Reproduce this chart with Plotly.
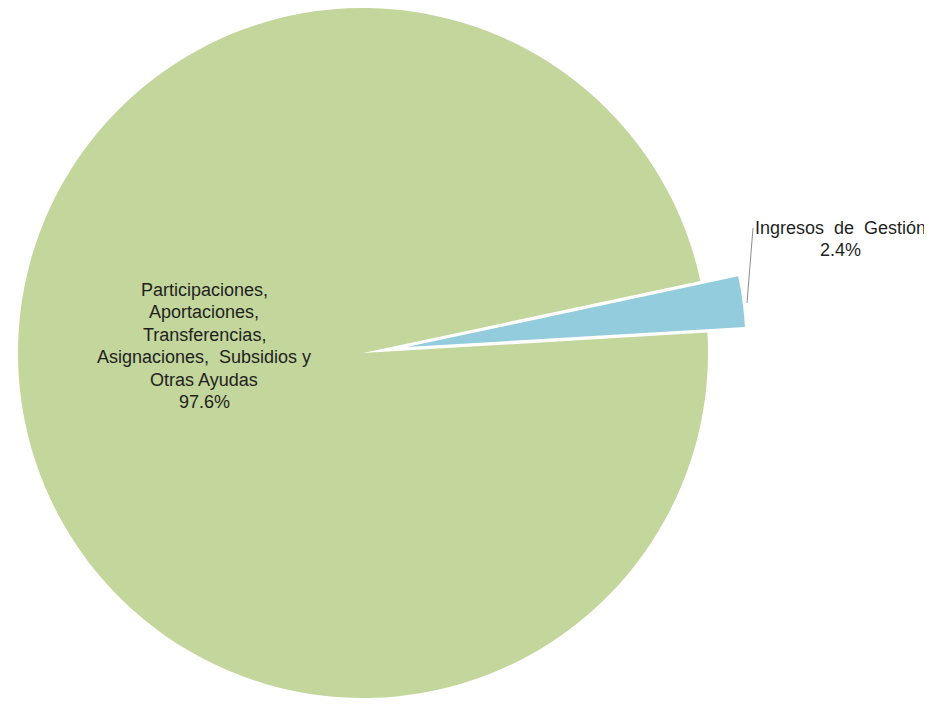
import math
import plotly.graph_objects as go

# ---- data ----
labels = [
    "Participaciones, Aportaciones, Transferencias, Asignaciones, Subsidios y Otras Ayudas",
    "Ingresos de Gestión",
]
label_lines = [
    ["Participaciones,", "Aportaciones,", "Transferencias,", "Asignaciones,\u00a0 Subsidios y", "Otras Ayudas"],
    ["Ingresos\u00a0 de\u00a0 Gestión"],
]
values = [97.6, 2.4]
colors = ["#C3D69B", "#93CDDD"]

OFF = 8                              # browser body margin
W, H = 932 - OFF, 706 - 2 * OFF
cx, cy, r = 363 - OFF, 353 - OFF, 345   # pie centre / radius (figure px)
rotation = 86.6                      # clock angle where the first slice starts
pull_px = 38                         # explosion of the small slice (px)

total = sum(values)
start2 = rotation + 360 * values[0] / total
mid2 = math.radians(start2 + 180 * values[1] / total)
s, c = math.sin(mid2), -math.cos(mid2)
d = pull_px
cxb, cyb = cx + d * s, cy + d * c
rb = min(r, cyb, H - cyb, W - cxb)
for _ in range(5):
    d = pull_px + (r - rb)
    cxb, cyb = cx + d * s, cy + d * c
    rb = min(r, cyb, H - cyb, W - cxb)


def clamp(v):
    return min(1.0, max(0.0, v))


def dom(cxp, cyp, rr):
    return dict(x=[clamp((cxp - rr) / W), clamp((cxp + rr) / W)],
                y=[clamp(1 - (cyp + rr) / H), clamp(1 - (cyp - rr) / H)])


fig = go.Figure()
fig.add_trace(go.Pie(
    labels=labels, values=values, sort=False, direction="clockwise",
    rotation=rotation, textinfo="none", hoverinfo="label+percent",
    marker=dict(colors=[colors[0], "rgba(0,0,0,0)"], line=dict(width=0)),
    domain=dom(cx, cy, r), showlegend=False,
))
fig.add_trace(go.Pie(
    labels=labels, values=values, sort=False, direction="clockwise",
    rotation=rotation, textinfo="none", hoverinfo="label+percent",
    marker=dict(colors=["rgba(0,0,0,0)", colors[1]], line=dict(width=0)),
    domain=dom(cxb, cyb, rb), showlegend=False,
))

font = dict(family="Liberation Sans, Arial, sans-serif", size=18, color="#1f1f1f")
label_pos = [(204, 290), (840, 228)]   # page px of first line centre
line_gap = 22.4
for lines, v, (lx, ly) in zip(label_lines, values, label_pos):
    all_lines = lines + [f"{v / total * 100:.1f}%"]
    for i, t in enumerate(all_lines):
        fig.add_annotation(x=(lx - OFF) / W, y=1 - (ly - OFF + i * line_gap) / H,
                           xref="paper", yref="paper", text=t, showarrow=False,
                           font=font, xanchor="center", yanchor="middle")

fig.add_shape(type="line", xref="paper", yref="paper",
              x0=(753 - OFF) / W, y0=1 - (228 - OFF) / H,
              x1=(747 - OFF) / W, y1=1 - (303 - OFF) / H,
              line=dict(color="#8c8c8c", width=1))

fig.update_layout(width=W, height=H, margin=dict(l=0, r=0, t=0, b=0),
                  paper_bgcolor="white", plot_bgcolor="white")
fig.write_html("out.html")
